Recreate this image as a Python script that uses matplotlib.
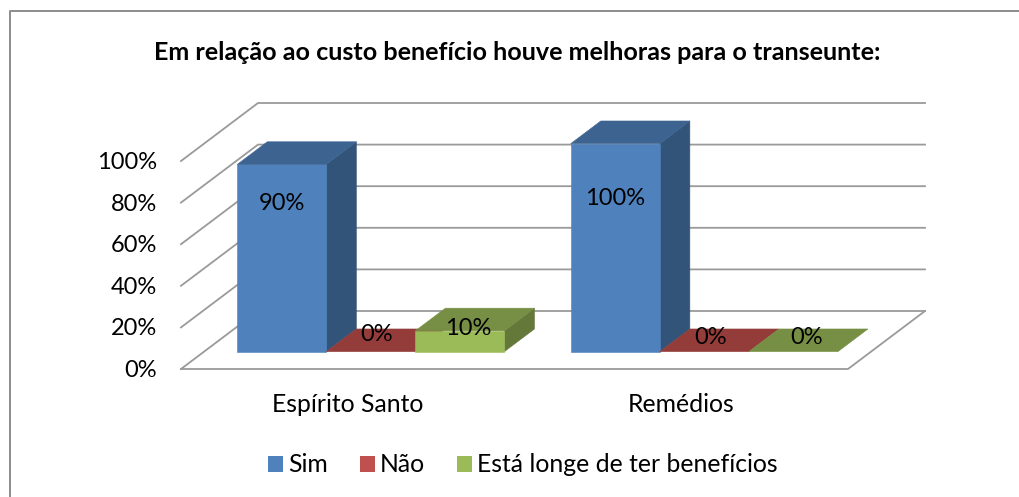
import matplotlib
matplotlib.use("Agg")
import matplotlib.pyplot as plt
from matplotlib.lines import Line2D
from matplotlib.patches import Polygon, Rectangle

categories=["Espírito Santo","Remédios"]
series=["Sim","Não","Está longe de ter benefícios"]
values=[[90,100],[0,0],[10,0]]
ticks=[0,20,40,60,80,100]
title="Em relação ao custo benefício houve melhoras para o transeunte:"

front=["#4F81BD","#C0504D","#9BBB59"]
side=["#335479","#7B3432","#64783A"]
top=["#3D6491","#933C3A","#778F45"]

#Label nudges in pixels, per series then category
labelDx=[[0,0],[6,6],[8,13]]
labelDy=[[-39,-55],[17,14],[2,14]]

W,H=1019,497
plt.rcParams["font.family"]=["Lato","DejaVu Sans"]

fig=plt.figure(figsize=(W/100,H/100),dpi=100)
ax=fig.add_axes([181/W,(H-369)/H,667/W,208/H])
ax.set_xlim(0,2)
ax.set_ylim(0,100)
ax.axis("off")

#Depth of the box, in axis units
depthX=77/333.5
depthY=58/2.08
barW=0.267
bar0=0.30
bar1=0.69

def pt(x,y,d=0):
    return (x+d*depthX,y+d*depthY)

def poly(points,color,z):
    ax.add_patch(Polygon(points,closed=True,facecolor=color,edgecolor=color,linewidth=0.4,clip_on=False,zorder=z))

#Box walls
grid="#9A9A9A"
for v in ticks:
    a=pt(0,v,0)
    b=pt(0,v,1)
    c=pt(2,v,1)
    ax.plot([a[0],b[0],c[0]],[a[1],b[1],c[1]],color=grid,lw=1.3,clip_on=False,zorder=1,solid_joinstyle="miter")
    ax.text(-0.072,v-0.7,str(v)+"%",ha="right",va="center",fontsize=17,color="black",clip_on=False)
f0=pt(0,0,0)
f1=pt(2,0,0)
f2=pt(2,0,1)
ax.plot([f0[0],f1[0],f2[0]],[f0[1],f1[1],f2[1]],color=grid,lw=1.3,clip_on=False,zorder=1)

#Bars, drawn left to right
for c in range(len(categories)):
    start=c+(1-barW*len(series))/2
    for s in range(len(series)):
        x0=start+s*barW
        x1=x0+barW
        v=values[s][c]
        z=3+c*10+s
        if v>0:
            poly([pt(x1,0,bar0),pt(x1,0,bar1),pt(x1,v,bar1),pt(x1,v,bar0)],side[s],z)
            poly([pt(x0,0,bar0),pt(x1,0,bar0),pt(x1,v,bar0),pt(x0,v,bar0)],front[s],z)
        poly([pt(x0,v,bar0),pt(x1,v,bar0),pt(x1,v,bar1),pt(x0,v,bar1)],top[s],z)
        ax.annotate(str(v)+"%",xy=pt(x0+barW/2,v,bar0),xytext=(labelDx[s][c],labelDy[s][c]),textcoords="offset pixels",
                    ha="center",va="center",fontsize=17,zorder=50,annotation_clip=False)
    ax.annotate(categories[c],xy=(c+0.5,0),xytext=(0,-36),textcoords="offset pixels",
                ha="center",va="center",fontsize=17.8,annotation_clip=False)

#Title and legend
fig.text(517/W,1-53/H,title,ha="center",va="center",fontsize=18.1,fontweight="bold")
handles=[Rectangle((0,0),1,1,facecolor=color,edgecolor="none") for color in front]
fig.legend(handles,series,loc="center",bbox_to_anchor=(523/W,1-465/H),ncol=3,frameon=False,fontsize=17.8,
           handlelength=0.6,handleheight=0.6,handletextpad=0.2,columnspacing=1.3)

#Chart border
fig.add_artist(Line2D([10/W,10/W,1],[0,1-11/H,1-11/H],color="#8C8C8C",lw=1.4))

fig.savefig("out.png",dpi=100)
